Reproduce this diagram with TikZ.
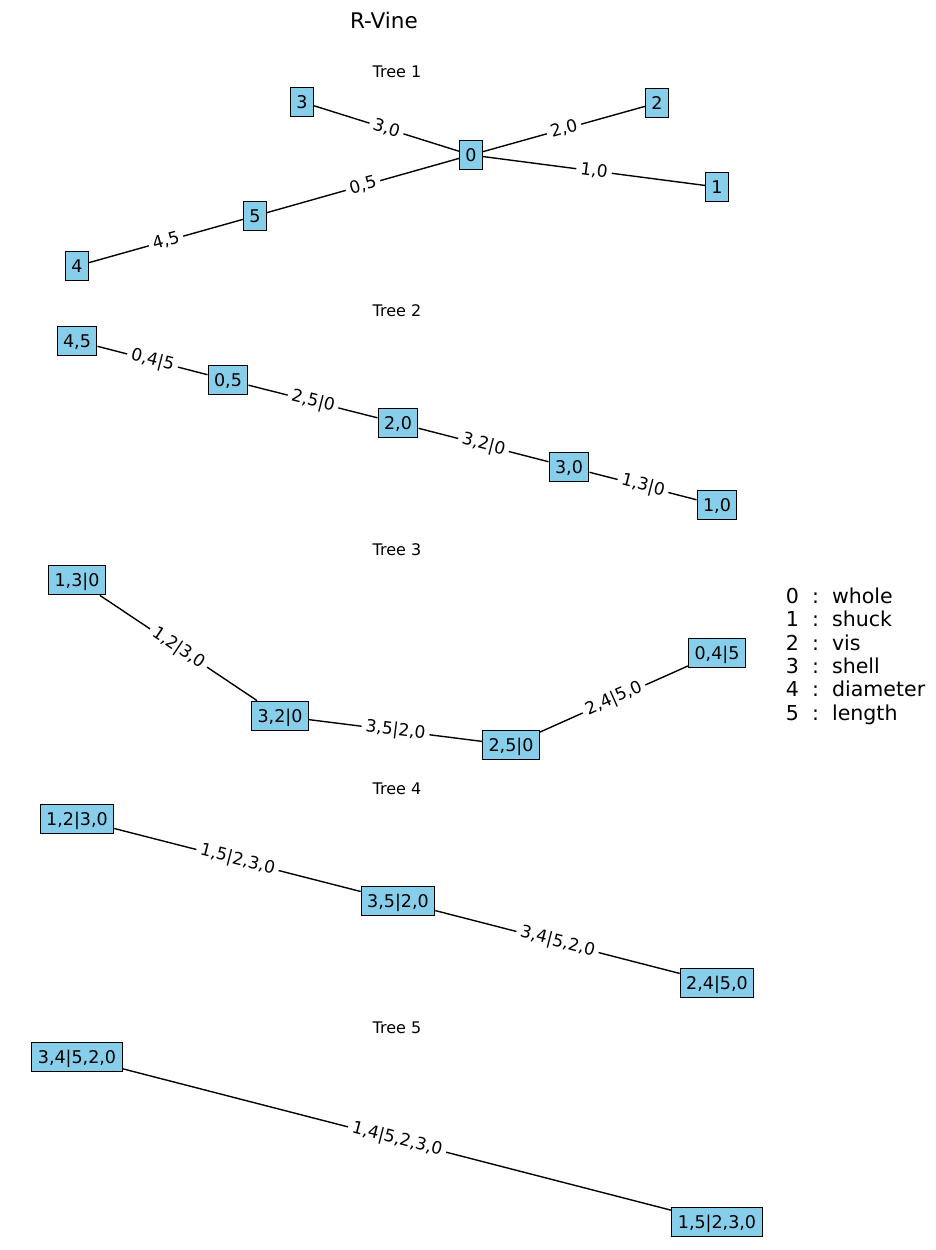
\documentclass[tikz,border=0pt]{standalone}
\usepackage{fontspec}
\setmainfont{DejaVu Sans}
\definecolor{skyblue}{HTML}{87CEEB}
\begin{document}
\begin{tikzpicture}[x=0.72pt,y=-0.72pt,
  vnode/.style={draw=black, line width=0.8pt, fill=skyblue, font=\fontsize{12.6}{14}\selectfont, inner xsep=4.3pt, inner ysep=4.4pt, text height=10.6pt, text depth=1.9pt},
  elabel/.style={midway, sloped, fill=white, font=\fontsize{12.3}{14}\selectfont, inner xsep=3pt, inner ysep=1.5pt},
  vedge/.style={draw=black, line width=1pt},
  ttl/.style={font=\fontsize{11.5}{13}\selectfont},
  leg/.style={anchor=base west, font=\fontsize{14.8}{17}\selectfont}]
\useasboundingbox (0,0) rectangle (936,1250);

\node[font=\fontsize{15.5}{18}\selectfont] (title) at (384,20) {R-Vine};

% Tree 1
\node[ttl] (tt1) at (397,72) {Tree 1};
\node[vnode] (a3) at (302,102) {3};
\node[vnode] (a0) at (471,155) {0};
\node[vnode] (a2) at (657,103) {2};
\node[vnode] (a1) at (717,187) {1};
\node[vnode] (a5) at (255,216) {5};
\node[vnode] (a4) at (77,266) {4};
\draw[vedge] (a3) -- node[elabel] {3,0} (a0);
\draw[vedge] (a0) -- node[elabel] {2,0} (a2);
\draw[vedge] (a0) -- node[elabel] {1,0} (a1);
\draw[vedge] (a5) -- node[elabel] {0,5} (a0);
\draw[vedge] (a4) -- node[elabel] {4,5} (a5);

% Tree 2
\node[ttl] (tt2) at (397,311) {Tree 2};
\node[vnode] (b45) at (77,341) {4,5};
\node[vnode] (b05) at (228,380) {0,5};
\node[vnode] (b20) at (398,423) {2,0};
\node[vnode] (b30) at (569,467) {3,0};
\node[vnode] (b10) at (717,505) {1,0};
\draw[vedge] (b45) -- node[elabel] {0,4|5} (b05);
\draw[vedge] (b05) -- node[elabel] {2,5|0} (b20);
\draw[vedge] (b20) -- node[elabel] {3,2|0} (b30);
\draw[vedge] (b30) -- node[elabel] {1,3|0} (b10);

% Tree 3
\node[ttl] (tt3) at (397,550) {Tree 3};
\node[vnode] (c13) at (77,580) {1,3|0};
\node[vnode] (c32) at (280,716) {3,2|0};
\node[vnode] (c25) at (511,745) {2,5|0};
\node[vnode] (c04) at (717,653) {0,4|5};
\draw[vedge] (c13) -- node[elabel] {1,2|3,0} (c32);
\draw[vedge] (c32) -- node[elabel] {3,5|2,0} (c25);
\draw[vedge] (c25) -- node[elabel] {2,4|5,0} (c04);

% Tree 4
\node[ttl] (tt4) at (397,789) {Tree 4};
\node[vnode] (d12) at (77,819) {1,2|3,0};
\node[vnode] (d35) at (398,901) {3,5|2,0};
\node[vnode] (d24) at (717,983) {2,4|5,0};
\draw[vedge] (d12) -- node[elabel] {1,5|2,3,0} (d35);
\draw[vedge] (d35) -- node[elabel] {3,4|5,2,0} (d24);

% Tree 5
\node[ttl] (tt5) at (397,1028) {Tree 5};
\node[vnode] (e34) at (77,1057) {3,4|5,2,0};
\node[vnode] (e15) at (717,1222) {1,5|2,3,0};
\draw[vedge] (e34) -- node[elabel] {1,4|5,2,3,0} (e15);

% Legend
\node[leg] (l0) at (781,603) {0~~:~~whole};
\node[leg] (l1) at (781,626.5) {1~~:~~shuck};
\node[leg] (l2) at (781,650) {2~~:~~vis};
\node[leg] (l3) at (781,673) {3~~:~~shell};
\node[leg] (l4) at (781,696.5) {4~~:~~diameter};
\node[leg] (l5) at (781,720) {5~~:~~length};
\end{tikzpicture}
\end{document}
